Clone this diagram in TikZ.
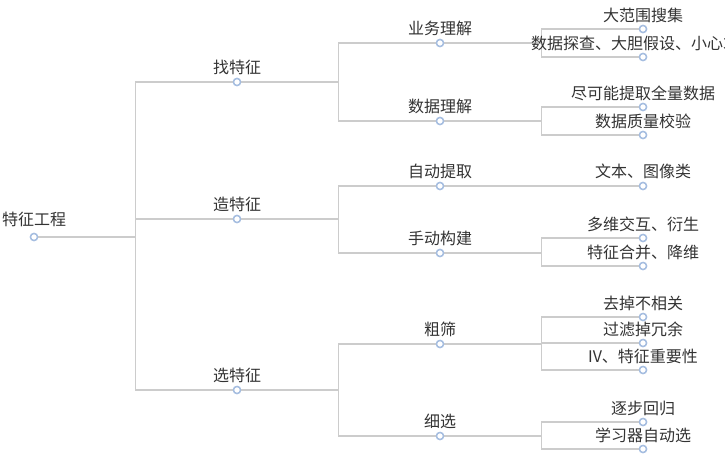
\documentclass[tikz,border=0pt]{standalone}
\usepackage{fontspec}
\setmainfont{Noto Sans CJK SC}
\usetikzlibrary{positioning}
\definecolor{edgegray}{HTML}{CCCCCC}
\definecolor{dotblue}{HTML}{A5BDE0}
\definecolor{txtgray}{HTML}{333333}
\begin{document}
\begin{tikzpicture}[x=1pt, y=-1pt,
    dot/.style = {draw=dotblue, fill=white, circle, line width=1.4pt, inner sep=0pt, minimum size=7pt},
    lbl/.style = {text=txtgray, inner sep=0pt, anchor=base, font=\fontsize{16pt}{19pt}\selectfont},
    edge/.style = {draw=edgegray, line width=1.4pt}]
    \useasboundingbox (0,0) rectangle (725,458);
    \clip (0,0) rectangle (725,458);
    % nodes
    \node[dot] (root) at (34,237) {};
    \node[dot] (zhao) at (237,82) {};
    \node[dot] (zao) at (237,219) {};
    \node[dot] (xuan) at (237,390) {};
    \node[dot] (yewu) at (440,43) {};
    \node[dot] (shuju) at (440,121) {};
    \node[dot] (zidong) at (440,186) {};
    \node[dot] (shoudong) at (440,253) {};
    \node[dot] (cushai) at (440,344) {};
    \node[dot] (xixuan) at (440,436) {};
    \node[dot] (a1) at (643,29) {};
    \node[dot] (a2) at (643,57) {};
    \node[dot] (b1) at (643,107) {};
    \node[dot] (b2) at (643,135) {};
    \node[dot] (c1) at (643,186) {};
    \node[dot] (d1) at (643,238) {};
    \node[dot] (d2) at (643,266) {};
    \node[dot] (e1) at (643,317) {};
    \node[dot] (e2) at (643,343) {};
    \node[dot] (e3) at (643,370) {};
    \node[dot] (f1) at (643,422) {};
    \node[dot] (f2) at (643,449) {};
    % junctions
    \coordinate (j0) at (135.5,237);
    \coordinate (j1) at (338.5,82);
    \coordinate (j2) at (338.5,219);
    \coordinate (j3) at (338.5,390);
    \coordinate (j4) at (541.5,43);
    \coordinate (j5) at (541.5,121);
    \coordinate (j6) at (541.5,253);
    \coordinate (j7) at (541.5,344);
    \coordinate (j8) at (541.5,436);
    % edges
    \draw[edge] (root) -- (j0) |- (zhao);
    \draw[edge] (j0) |- (zao);
    \draw[edge] (j0) |- (xuan);
    \draw[edge] (zhao) -- (j1) |- (yewu);
    \draw[edge] (j1) |- (shuju);
    \draw[edge] (zao) -- (j2) |- (zidong);
    \draw[edge] (j2) |- (shoudong);
    \draw[edge] (xuan) -- (j3) |- (cushai);
    \draw[edge] (j3) |- (xixuan);
    \draw[edge] (yewu) -- (j4) |- (a1);
    \draw[edge] (j4) |- (a2);
    \draw[edge] (shuju) -- (j5) |- (b1);
    \draw[edge] (j5) |- (b2);
    \draw[edge] (zidong) -- (c1);
    \draw[edge] (shoudong) -- (j6) |- (d1);
    \draw[edge] (j6) |- (d2);
    \draw[edge] (cushai) -- (j7) |- (e1);
    \draw[edge] (j7) |- (e2);
    \draw[edge] (j7) |- (e3);
    \draw[edge] (xixuan) -- (j8) |- (f1);
    \draw[edge] (j8) |- (f2);
    % redraw dots over edges
    \foreach \n in {root,zhao,zao,xuan,yewu,shuju,zidong,shoudong,cushai,xixuan,a1,a2,b1,b2,c1,d1,d2,e1,e2,e3,f1,f2}
        \draw[draw=dotblue, fill=white, line width=1.4pt] (\n) circle (3.5pt);
    % labels
    \node[lbl] (root-t) at ([yshift=12pt]root) {特征工程};
    \node[lbl] (zhao-t) at ([yshift=9pt]zhao) {找特征};
    \node[lbl] (zao-t) at ([yshift=9pt]zao) {造特征};
    \node[lbl] (xuan-t) at ([yshift=9pt]xuan) {选特征};
    \node[lbl] (yewu-t) at ([yshift=9pt]yewu) {业务理解};
    \node[lbl] (shuju-t) at ([yshift=9pt]shuju) {数据理解};
    \node[lbl] (zidong-t) at ([yshift=9pt]zidong) {自动提取};
    \node[lbl] (shoudong-t) at ([yshift=9pt]shoudong) {手动构建};
    \node[lbl] (cushai-t) at ([yshift=9pt]cushai) {粗筛};
    \node[lbl] (xixuan-t) at ([yshift=9pt]xixuan) {细选};
    \node[lbl] (a1-t) at ([yshift=8pt]a1) {大范围搜集};
    \node[lbl] (a2-t) at ([yshift=8pt]a2) {数据探查、大胆假设、小心求证};
    \node[lbl] (b1-t) at ([yshift=8pt]b1) {尽可能提取全量数据};
    \node[lbl] (b2-t) at ([yshift=8pt]b2) {数据质量校验};
    \node[lbl] (c1-t) at ([yshift=9pt]c1) {文本、图像类};
    \node[lbl] (d1-t) at ([yshift=8pt]d1) {多维交互、衍生};
    \node[lbl] (d2-t) at ([yshift=8pt]d2) {特征合并、降维};
    \node[lbl] (e1-t) at ([yshift=8pt]e1) {去掉不相关};
    \node[lbl] (e2-t) at ([yshift=8pt]e2) {过滤掉冗余};
    \node[lbl] (e3-t) at ([yshift=8pt]e3) {IV、特征重要性};
    \node[lbl] (f1-t) at ([yshift=8pt]f1) {逐步回归};
    \node[lbl] (f2-t) at ([yshift=8pt]f2) {学习器自动选};
\end{tikzpicture}
\end{document}
